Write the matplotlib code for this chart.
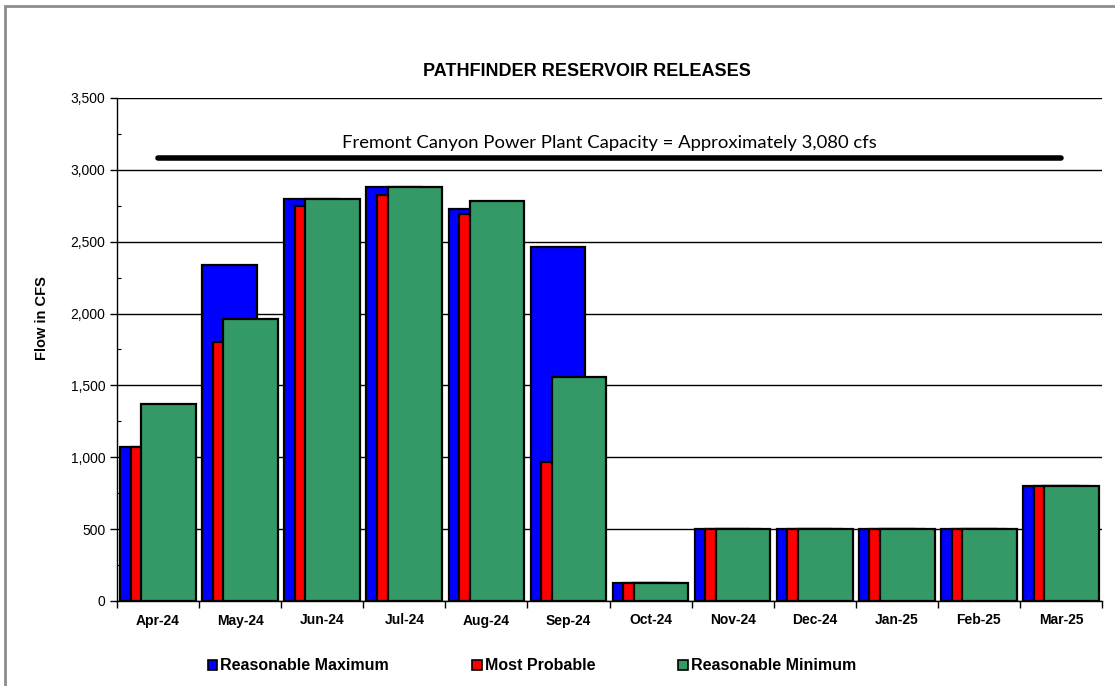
import numpy as np
import matplotlib.pyplot as plt
from matplotlib.patches import Patch, Rectangle
from matplotlib.ticker import MultipleLocator, FuncFormatter

months = ["Apr-24", "May-24", "Jun-24", "Jul-24", "Aug-24", "Sep-24",
          "Oct-24", "Nov-24", "Dec-24", "Jan-25", "Feb-25", "Mar-25"]
reasonable_max = [1070, 2340, 2800, 2880, 2725, 2465, 125, 500, 500, 500, 500, 800]
most_probable = [1070, 1800, 2750, 2825, 2690, 965, 125, 500, 500, 500, 500, 800]
reasonable_min = [1370, 1960, 2800, 2880, 2780, 1560, 125, 500, 500, 500, 500, 800]
capacity = 3080

plt.rcParams['font.family'] = ['Liberation Sans', 'DejaVu Sans']

fig = plt.figure(figsize=(11.15, 6.86), dpi=100)
ax = fig.add_axes([117 / 1115, 1 - 601 / 686, 985 / 1115, 503 / 686])

x = np.arange(len(months))
w = 0.665
s = 0.128
edge = dict(edgecolor='black', linewidth=1.6)
ax.bar(x - s, reasonable_max, w, color='#0000FF', zorder=3, **edge)
ax.bar(x, most_probable, w, color='#FF0000', zorder=4, **edge)
ax.bar(x + s, reasonable_min, w, color='#339966', zorder=5, **edge)

# capacity line
ax.plot([0, 11], [capacity, capacity], color='black', linewidth=4, zorder=6,
        solid_capstyle='round')
ax.text(5.5, 3185, "Fremont Canyon Power Plant Capacity = Approximately 3,080 cfs",
        ha='center', va='center', fontsize=13.3, family=['Lato', 'DejaVu Sans'])

ax.set_xlim(-0.5, 11.5)
ax.set_ylim(0, 3500)
ax.yaxis.set_major_locator(MultipleLocator(500))
ax.yaxis.set_minor_locator(MultipleLocator(250))
ax.yaxis.set_major_formatter(FuncFormatter(lambda v, p: f"{int(v):,}"))
ax.grid(axis='y', which='major', color='black', linewidth=1, zorder=0)
ax.set_axisbelow(True)

ax.set_xticks(x)
ax.set_xticklabels(months, fontweight='bold', fontsize=10)
ax.set_xticks(np.arange(-0.5, 12, 1), minor=True)
ax.tick_params(axis='x', which='major', length=0, pad=9)
ax.tick_params(axis='x', which='minor', length=5, width=1, direction='out')
ax.tick_params(axis='y', which='major', length=5, width=1, direction='out', labelsize=10)
ax.tick_params(axis='y', which='minor', length=3, width=0.8, direction='in')

for side in ['top', 'right']:
    ax.spines[side].set_visible(False)
ax.spines['left'].set_linewidth(1)
ax.spines['bottom'].set_linewidth(1)

fig.text(42 / 1115, 1 - 318 / 686, "Flow in CFS", rotation=90, ha='center', va='center',
         fontsize=10.5, fontweight='bold')
fig.text(587 / 1115, 1 - 72 / 686, "PATHFINDER RESERVOIR RELEASES", ha='center',
         va='center', fontsize=13, fontweight='bold')

handles = [Patch(facecolor='#0000FF', edgecolor='black', linewidth=1.2),
           Patch(facecolor='#FF0000', edgecolor='black', linewidth=1.2),
           Patch(facecolor='#339966', edgecolor='black', linewidth=1.2)]
fig.legend(handles, ["Reasonable Maximum", "Most Probable", "Reasonable Minimum"],
           loc='center', bbox_to_anchor=(532 / 1115, 1 - 666 / 686), ncol=3,
           frameon=False, handlelength=0.6, handleheight=0.6, handletextpad=0.2,
           columnspacing=5.2, prop=dict(weight='bold', size=11.5))

# gray frame around the chart
fig.add_artist(Rectangle((5 / 1115, -0.01), 1.02, 1 - 6 / 686 + 0.01,
                         transform=fig.transFigure, fill=False,
                         edgecolor='#8c8c8c', linewidth=2))

fig.savefig("out.png", dpi=100)
